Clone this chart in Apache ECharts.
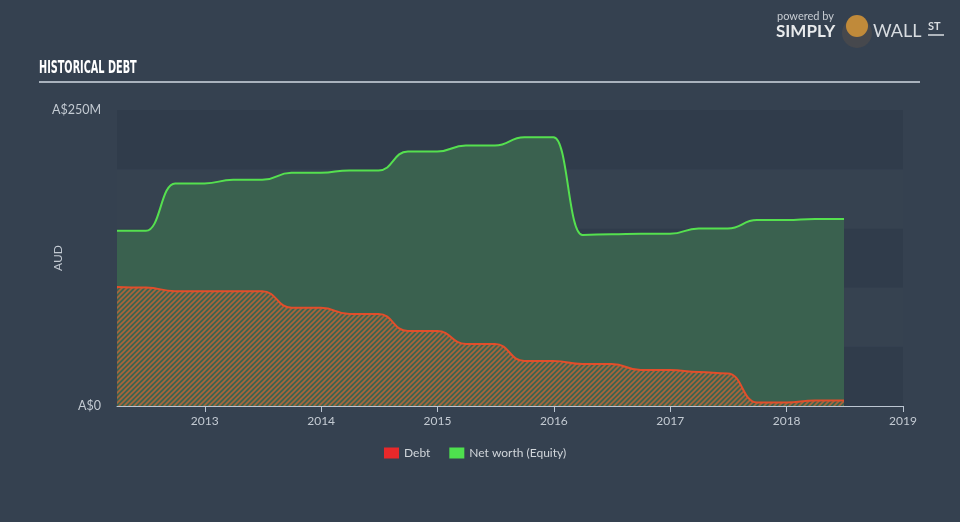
<!DOCTYPE html>
<html>
<head>
<meta charset="utf-8">
<script src="https://cdn.jsdelivr.net/npm/echarts@6/dist/echarts.min.js"></script>
<style>
html,body{margin:0;padding:0;background:#354150;}
#c{width:960px;height:522px;}
</style>
</head>
<body>
<div id="c"></div>
<script>
// ---- data ----
const dates = ['2012-03-31','2012-06-30','2012-09-30','2012-12-31','2013-03-31','2013-06-30','2013-09-30','2013-12-31',
  '2014-03-31','2014-06-30','2014-09-30','2014-12-31','2015-03-31','2015-06-30','2015-09-30','2015-12-31',
  '2016-03-31','2016-06-30','2016-09-30','2016-12-31','2017-03-31','2017-06-30','2017-09-30','2017-12-31',
  '2018-03-31','2018-06-30'];
const debt = [100.5,100,97,97,97,97,83,83,77.7,77.7,63.3,63.3,52.4,52.4,38,38,35.5,35.5,30.4,30.4,28.7,27.5,3,3,4.6,4.6];
const equity = [148,148,188,188,191,191,197,197,199,199,215,215,220,220,227,227,144.5,145,145.5,145.5,150,150,157,157,158,158];
const xTicks = [2013,2014,2015,2016,2017,2018,2019];
const yTickLabels = {0:'A$0',250:'A$250M'};
const seriesNames = ['Debt','Net worth (Equity)'];

function toYear(s){
  const d = new Date(s+'T00:00:00Z');
  const y = d.getUTCFullYear();
  const start = Date.UTC(y,0,1), end = Date.UTC(y+1,0,1);
  return y + (d.getTime()-start)/(end-start);
}
const xs = dates.map(toYear);
const debtData = xs.map((x,i)=>[x,debt[i]]);
const eqData = xs.map((x,i)=>[x,equity[i]]);

// hatch pattern
const tile = document.createElement('canvas');
tile.width = 5; tile.height = 5;
const g = tile.getContext('2d');
g.fillStyle = '#3d6450'; g.fillRect(0,0,5,5);
g.strokeStyle = '#a9653c'; g.lineWidth = 1.6;
g.beginPath();
g.moveTo(-1,6); g.lineTo(6,-1);
g.moveTo(-1,1); g.lineTo(1,-1);
g.moveTo(4,6); g.lineTo(6,4);
g.stroke();

const chart = echarts.init(document.getElementById('c'));
const txt = '#c3cad2';
chart.setOption({
  backgroundColor:'#354150',
  animation:false,
  textStyle:{fontFamily:'Lato'},
  grid:{left:117,right:57,top:110,bottom:116},
  legend:{
    bottom:58, left:379, icon:'rect', itemWidth:15, itemHeight:11, itemGap:19,
    textStyle:{color:'#d0d5da',fontSize:12,fontFamily:'Lato'},
    data:[{name:seriesNames[0],itemStyle:{color:'#e8282a'}},{name:seriesNames[1],itemStyle:{color:'#4ee04e'}}]
  },
  xAxis:{
    type:'value', min:xs[0], max:2019,
    splitLine:{show:false},
    axisLine:{lineStyle:{color:'#bcc6d2',width:1}},
    axisTick:{show:true,length:6,lineStyle:{color:'#bcc6d2'},customValues:xTicks},
    axisLabel:{color:txt,fontSize:12,margin:9,customValues:xTicks,formatter:v=>String(Math.round(v))}
  },
  yAxis:{
    type:'value', min:0, max:250, interval:50,
    name:'AUD', nameLocation:'middle', nameGap:53, nameRotate:90, nameMoveOverlap:false,
    nameTextStyle:{color:txt,fontSize:12},
    axisLine:{show:false}, axisTick:{show:false},
    splitLine:{show:false},
    splitArea:{show:true,areaStyle:{color:['#303c4b','#364250']}},
    axisLabel:{color:txt,fontSize:12.5,margin:16,formatter:v=>yTickLabels[v]||''}
  },
  series:[
    {
      name:seriesNames[1], type:'line', data:eqData, smooth:0.5, smoothMonotone:'x',
      symbol:'none', z:2,
      lineStyle:{color:'#55e04f',width:2},
      itemStyle:{color:'#4ee04e'},
      areaStyle:{color:'#3a614f',opacity:1}
    },
    {
      name:seriesNames[0], type:'line', data:debtData, smooth:0.5, smoothMonotone:'x',
      symbol:'none', z:3,
      lineStyle:{color:'#e24e2b',width:2},
      itemStyle:{color:'#e8282a'},
      areaStyle:{color:{image:tile,repeat:'repeat'},opacity:1}
    }
  ],
  graphic:[
    {type:'text',x:39,y:59,scaleX:0.6,style:{text:'HISTORICAL DEBT',fill:'#ffffff',font:'bold 18px "DejaVu Sans Condensed","DejaVu Sans",sans-serif',textVerticalAlign:'top'}},
    {type:'line',shape:{x1:39,y1:82,x2:920,y2:82},style:{stroke:'#a9b2bd',lineWidth:2}},
    {type:'text',left:777,top:11,style:{text:'powered by',fill:'#c8cdd3',font:'11px Lato'}},
    {type:'text',left:776,top:23,style:{text:'SIMPLY',fill:'#e8eaec',font:'bold 17px Lato'}},
    {type:'circle',shape:{cx:857,cy:33,r:15},style:{fill:'#46484d'}},
    {type:'circle',shape:{cx:857,cy:26,r:11},style:{fill:'#c08a3a'}},
    {type:'text',left:873,top:22,style:{text:'WALL',fill:'#d8dce0',font:'18px Lato'}},
    {type:'text',left:928,top:21,style:{text:'ST',fill:'#d8dce0',font:'bold 11px Lato'}},
    {type:'line',shape:{x1:928,y1:35,x2:944,y2:35},style:{stroke:'#d8dce0',lineWidth:1.5}}
  ]
});
</script>
</body>
</html>
